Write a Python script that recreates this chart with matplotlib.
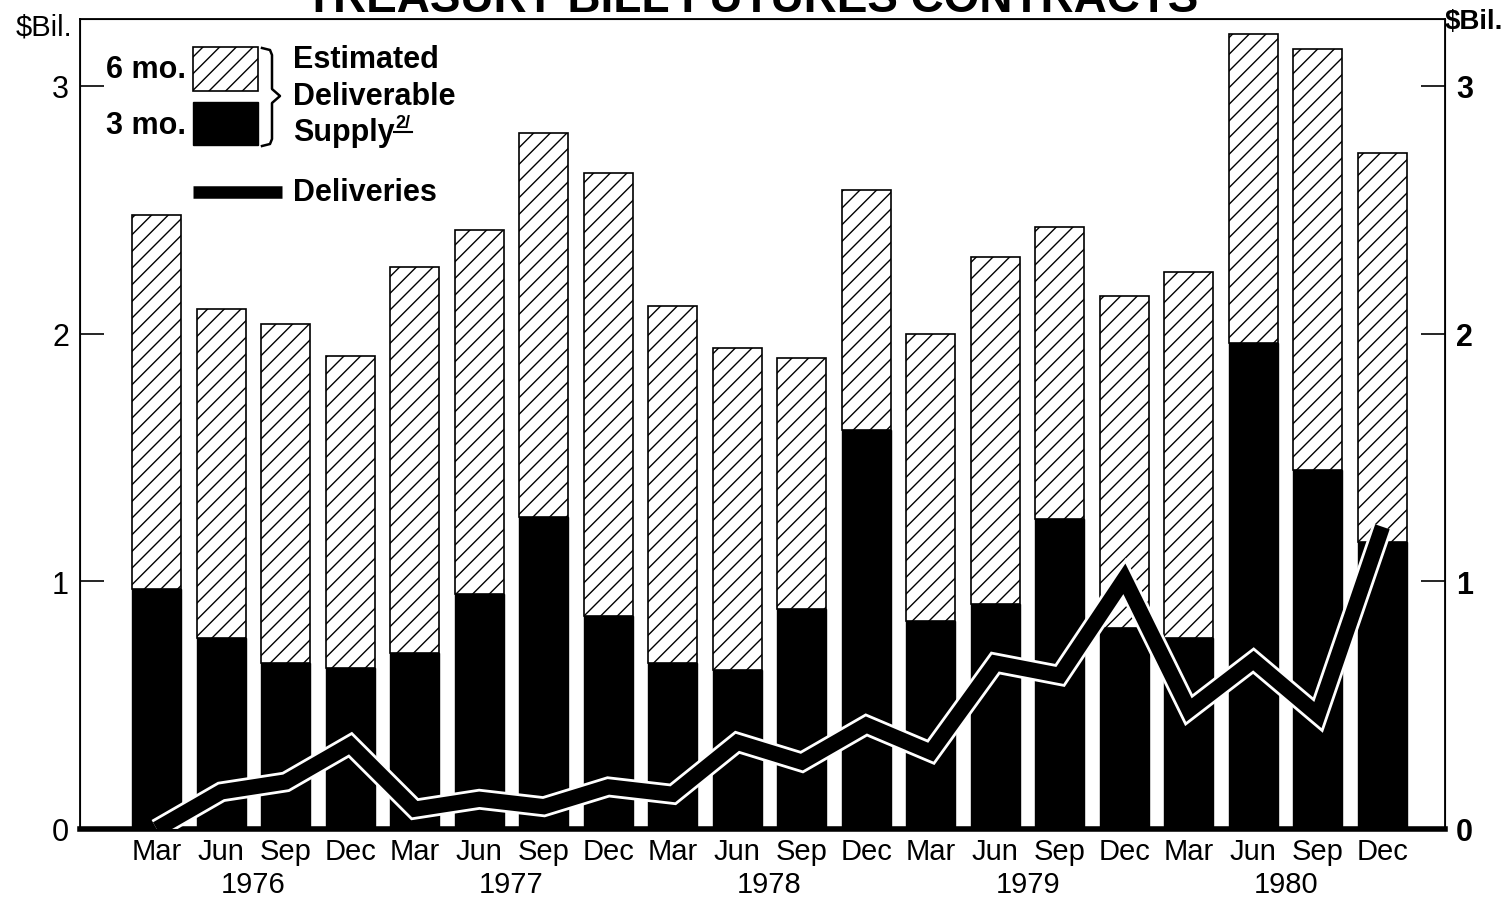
import matplotlib
matplotlib.use("Agg")
import matplotlib.pyplot as plt
import matplotlib.patheffects as pe
from matplotlib.patches import Rectangle
from matplotlib.lines import Line2D

months = ['Mar', 'Jun', 'Sep', 'Dec'] * 5
years = ['1976', '1977', '1978', '1979', '1980']
three_mo = [0.97, 0.77, 0.67, 0.65, 0.71, 0.95, 1.26, 0.86, 0.67, 0.64,
            0.89, 1.61, 0.84, 0.91, 1.25, 0.81, 0.77, 1.96, 1.45, 1.16]
six_mo = [1.51, 1.33, 1.37, 1.26, 1.56, 1.47, 1.55, 1.79, 1.44, 1.30,
          1.01, 0.97, 1.16, 1.40, 1.18, 1.34, 1.48, 1.25, 1.70, 1.57]
deliveries = [0.0, 0.15, 0.19, 0.34, 0.08, 0.12, 0.09, 0.17, 0.14, 0.35,
              0.27, 0.42, 0.31, 0.67, 0.62, 1.01, 0.48, 0.68, 0.46, 1.22]

plt.rcParams['font.family'] = ['Liberation Sans', 'DejaVu Sans']
plt.rcParams['hatch.linewidth'] = 1.0

fig = plt.figure(figsize=(15.12, 9.04), dpi=100)
ax = fig.add_axes([80 / 1512, 74 / 904, 1365 / 1512, 810 / 904])

x = list(range(len(months)))
ax.bar(x, three_mo, width=0.76, color='black', edgecolor='black', zorder=2)
ax.bar(x, six_mo, width=0.76, bottom=three_mo, color='white',
       edgecolor='black', hatch='//', linewidth=1.2, zorder=2)
ax.plot(x, deliveries, color='black', lw=11, solid_joinstyle='miter',
        solid_capstyle='butt', zorder=4,
        path_effects=[pe.Stroke(linewidth=15, foreground='white'), pe.Normal()])

ax.set_xlim(-1.19, 19.97)
ax.set_ylim(0, 3.27)
ax.set_xticks(x)
ax.set_xticklabels(months, fontsize=21)
ax.tick_params(axis='x', length=0, pad=6)
ax.set_yticks([0, 1, 2, 3])
ax.set_yticklabels(['0', '1', '2', '3'], fontsize=22)
ax.tick_params(axis='y', direction='in', length=17, width=1.2, pad=8)
for s in ['left', 'right', 'top']:
    ax.spines[s].set_linewidth(1.3)
ax.spines['bottom'].set_linewidth(4)

ax2 = ax.twinx()
ax2.set_ylim(0, 3.27)
ax2.set_yticks([0, 1, 2, 3])
ax2.set_yticklabels(['0', '1', '2', '3'], fontsize=22, fontweight='bold')
ax2.tick_params(axis='y', direction='in', length=17, width=1.2, pad=8)


def px(xp, yp):
    return xp / 1512, 1 - yp / 904


for i, yr in enumerate(years):
    ax.text(4 * i + 1.5, -(885 - 830) / 810, yr, ha='center', va='center',
            fontsize=21, transform=ax.get_xaxis_transform(), clip_on=False)

fig.text(*px(44, 28), '$Bil.', fontsize=21, ha='center', va='center')
fig.text(*px(1474, 22), '$Bil.', fontsize=20, ha='center', va='center',
         fontweight='bold')
# title is cut off at the top edge in the original scan
fig.text(*px(752, 12), 'TREASURY BILL FUTURES CONTRACTS', fontsize=33,
         fontweight='bold', ha='center', va='baseline')

# legend drawn by hand in figure pixels
fig.add_artist(Rectangle(px(193, 92), 65 / 1512, 44 / 904, transform=fig.transFigure,
                         facecolor='white', edgecolor='black', hatch='//', lw=1.2))
fig.add_artist(Rectangle(px(193, 146), 65 / 1512, 43 / 904, transform=fig.transFigure,
                         facecolor='black', edgecolor='black'))
fig.text(*px(186, 70), '6 mo.', fontsize=22, fontweight='bold', ha='right', va='center')
fig.text(*px(186, 126), '3 mo.', fontsize=22, fontweight='bold', ha='right', va='center')
bx = [262, 270, 272, 272, 280, 272, 272, 270, 262]
by = [49, 51, 56, 90, 97, 104, 140, 145, 147]
fig.add_artist(Line2D([px(a, b)[0] for a, b in zip(bx, by)],
                      [px(a, b)[1] for a, b in zip(bx, by)],
                      transform=fig.transFigure, color='black', lw=1.8))
fig.text(*px(293, 60), 'Estimated', fontsize=22, fontweight='bold', va='center')
fig.text(*px(293, 97), 'Deliverable', fontsize=22, fontweight='bold', va='center')
fig.text(*px(293, 133), 'Supply', fontsize=22, fontweight='bold', va='center')
fig.text(*px(395, 124), '2/', fontsize=13, fontweight='bold', va='center')
ux0, uy = px(394, 133)
ux1, _ = px(412, 133)
fig.add_artist(Line2D([ux0, ux1], [uy, uy], transform=fig.transFigure,
                      color='black', lw=1.5))
x0, y0 = px(193, 193)
x1, _ = px(282, 193)
fig.add_artist(Line2D([x0, x1], [y0, y0], transform=fig.transFigure,
                      color='black', lw=9, solid_capstyle='butt'))
fig.text(*px(293, 193), 'Deliveries', fontsize=22, fontweight='bold', va='center')

fig.savefig('out.png', dpi=100)
